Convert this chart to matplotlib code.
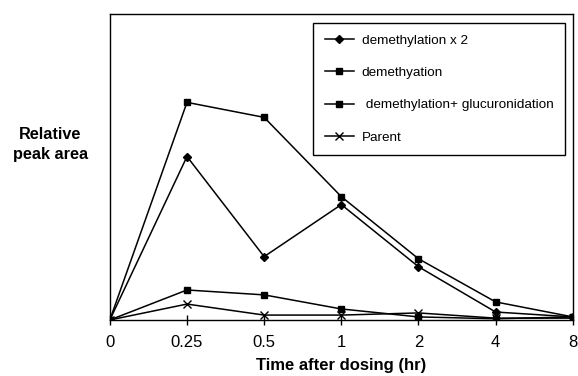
import matplotlib
matplotlib.use("Agg")
import matplotlib.pyplot as plt

plt.rcParams['font.family'] = ['Liberation Sans', 'DejaVu Sans']

times = ["0", "0.25", "0.5", "1", "2", "4", "8"]
demeth_x2 = [0, 53.4, 20.7, 37.7, 17.4, 2.6, 1.0]
demeth = [0, 71.1, 66.2, 40.3, 20.0, 5.9, 1.0]
demeth_gluc = [0, 9.8, 8.2, 3.6, 1.0, 0.4, 1.0]
parent = [0, 5.2, 1.6, 1.6, 2.3, 0.6, 0.6]

fig = plt.figure(figsize=(5.78, 3.76), dpi=100)
ax = fig.add_axes([0.190, 0.149, 0.801, 0.814])

x = list(range(len(times)))
kw = dict(color='black', linewidth=1.1)
ax.plot(x, demeth_x2, marker='D', markersize=4.5, label='demethylation x 2', **kw)
ax.plot(x, demeth, marker='s', markersize=5, label='demethyation', **kw)
ax.plot(x, demeth_gluc, marker='s', markersize=5, label=' demethylation+ glucuronidation', **kw)
ax.plot(x, parent, marker='x', markersize=5.5, markeredgewidth=1.0, label='Parent', **kw)

ax.set_xlim(0, 6)
ax.set_ylim(0, 100)
ax.set_xticks(x)
ax.set_xticklabels(times, fontsize=12)
ax.set_yticks([])
ax.tick_params(axis='x', direction='inout', length=7, width=1, pad=7)
for s in ax.spines.values():
    s.set_linewidth(1)
    s.set_color('black')

ax.set_xlabel('Time after dosing (hr)', fontsize=12, fontweight='bold', labelpad=6)
fig.text(0.087, 0.615, 'Relative\npeak area', fontsize=11.7, fontweight='bold',
         ha='center', va='center', linespacing=1.4)

leg = ax.legend(loc='upper right', bbox_to_anchor=(0.983, 0.97), fontsize=9.7,
                frameon=True, fancybox=False, edgecolor='black', framealpha=1,
                handlelength=2.2, handletextpad=0.55, labelspacing=1.47,
                borderpad=0.85, borderaxespad=0)
leg.get_frame().set_linewidth(1)

fig.savefig('out.png', dpi=100)
